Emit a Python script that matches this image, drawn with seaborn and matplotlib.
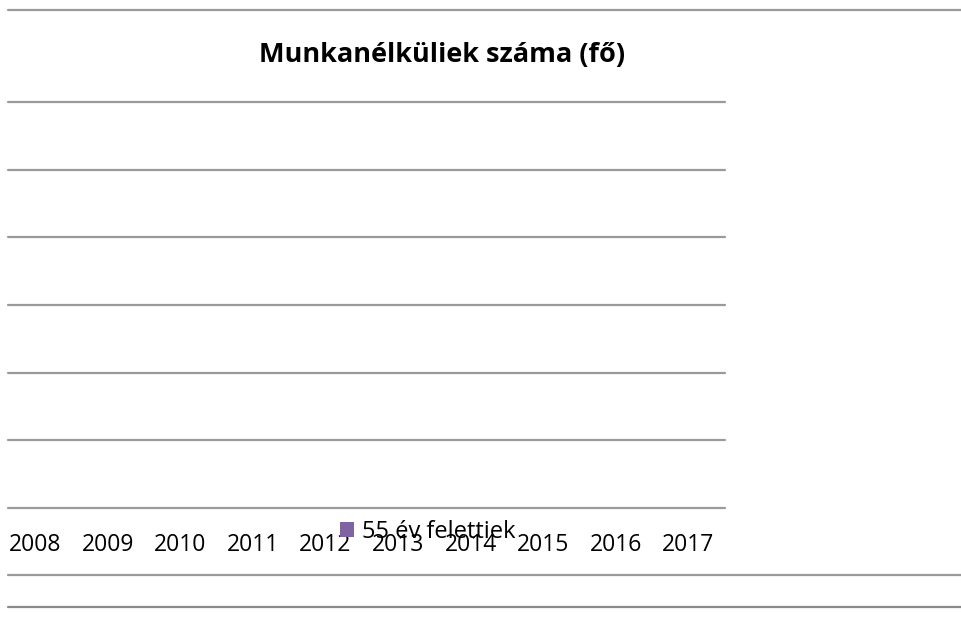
import matplotlib
matplotlib.use("Agg")
import matplotlib.pyplot as plt
from matplotlib.lines import Line2D
import pandas as pd
import seaborn as sns

# Unemployed persons over 55 per year (no counts recorded for the period)
years = ["2008", "2009", "2010", "2011", "2012", "2013", "2014", "2015", "2016", "2017"]
over_55 = [0, 0, 0, 0, 0, 0, 0, 0, 0, 0]
series_name = "55 év felettiek"
title = "Munkanélküliek száma (fő)"

sns.set_theme(style="white")
plt.rcParams["font.family"] = ["Open Sans", "DejaVu Sans"]

df = pd.DataFrame({"year": years, "value": over_55, "series": series_name})

fig = plt.figure(figsize=(9.62, 6.25), dpi=100)
ax = fig.add_axes([8 / 962, 1 - 508 / 625, 717 / 962, 406 / 625])

sns.barplot(data=df, x="year", y="value", hue="series",
            palette=["#8064A2"], linewidth=0, ax=ax, legend=False)

ax.set_ylim(0, 6)
ax.set_yticks(range(0, 7))
ax.set_xlim(-0.372, 9.503)
ax.yaxis.grid(True, color="#9a9a9a", linewidth=1.6)
for gl in ax.get_ygridlines():
    gl.set_clip_on(False)
ax.set_axisbelow(True)
ax.tick_params(axis="y", left=False, labelleft=False)
ax.tick_params(axis="x", bottom=False, pad=12, labelsize=16.5, labelcolor="black")
ax.set_xlabel("")
ax.set_ylabel("")
for s in ax.spines.values():
    s.set_visible(False)

fig.text(442 / 962, 1 - 55 / 625, title, ha="center", va="center",
         fontsize=19.5, fontweight="bold", color="black")

# frame lines across the sheet
for y, c in [(10, "#9a9a9a"), (575, "#9a9a9a"), (607, "#8a8a8a")]:
    fig.add_artist(Line2D([8 / 962, 1.0], [1 - y / 625, 1 - y / 625],
                          transform=fig.transFigure, color=c, linewidth=1.6))

handle = plt.Rectangle((0, 0), 1, 1, facecolor="#8064A2", edgecolor="none")
fig.legend([handle], [series_name], loc="center left",
           bbox_to_anchor=(340 / 962, 1 - 532 / 625), frameon=False,
           fontsize=17, labelcolor="black", handlelength=0.6, handleheight=0.6,
           handletextpad=0.35, borderpad=0, borderaxespad=0)

fig.savefig("out.png", dpi=100, facecolor="white")
